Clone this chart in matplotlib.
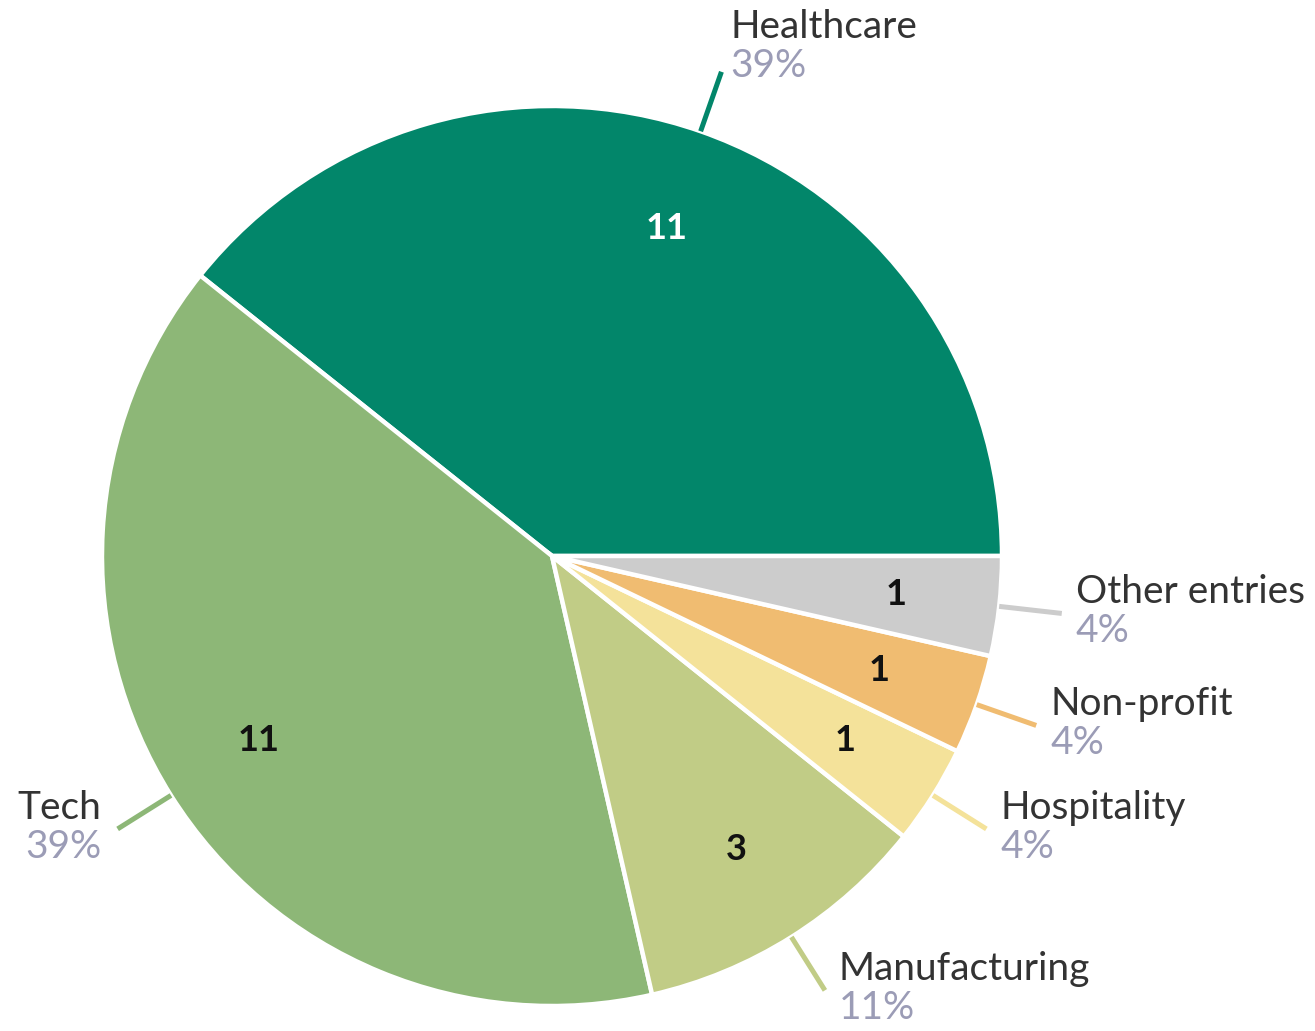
import matplotlib.pyplot as plt
import numpy as np

categories = ['Healthcare', 'Tech', 'Manufacturing', 'Hospitality', 'Non-profit', 'Other entries']
counts = [11, 11, 3, 1, 1, 1]
percent_labels = ['39%', '39%', '11%', '4%', '4%', '4%']
colors = ['#02866a', '#8db777', '#c1cc86', '#f4e29a', '#f0bc71', '#cccccc']
count_colors = ['white', '#111111', '#111111', '#111111', '#111111', '#111111']

plt.rcParams['font.family'] = ['Lato', 'DejaVu Sans']

W, H = 1315, 1031
fig = plt.figure(figsize=(W / 100, H / 100), dpi=100)
ax = fig.add_axes([0, 0, 1, 1])

cx, cy, R = 552, H - 556, 450

wedges, _ = ax.pie(counts, colors=colors, startangle=0, counterclock=True,
                   center=(cx, cy), radius=R, frame=True,
                   wedgeprops=dict(edgecolor='white', linewidth=3.2))
ax.set_xlim(0, W)
ax.set_ylim(0, H)
ax.set_aspect('equal')
ax.axis('off')

for w, name, pct, col, n, ncol in zip(wedges, categories, percent_labels, colors, counts, count_colors):
    mid = np.deg2rad((w.theta1 + w.theta2) / 2)
    c, s = np.cos(mid), np.sin(mid)
    # count inside the slice
    ax.text(cx + 0.77 * R * c, cy + 0.77 * R * s, str(n), color=ncol,
            fontsize=26, fontweight='bold', ha='center', va='center')
    # connector line
    x0, y0 = cx + 1.0 * R * c, cy + 1.0 * R * s
    x1, y1 = cx + 1.14 * R * c, cy + 1.14 * R * s
    ax.plot([x0, x1], [y0, y1], color=col, lw=3.6, solid_capstyle='butt')
    if s > 0.7:
        tx, ha, dy = x1 + 9, 'left', 24
    elif c < 0:
        tx, ha, dy = x1 - 16, 'right', 0
    else:
        tx, ha, dy = x1 + 14, 'left', 0
    ax.text(tx, y1 + 21 + dy, name, color='#333333', fontsize=28, ha=ha, va='center')
    ax.text(tx, y1 - 18 + dy, pct, color='#9b9cb6', fontsize=28, ha=ha, va='center')

fig.savefig('out.png', dpi=100)
